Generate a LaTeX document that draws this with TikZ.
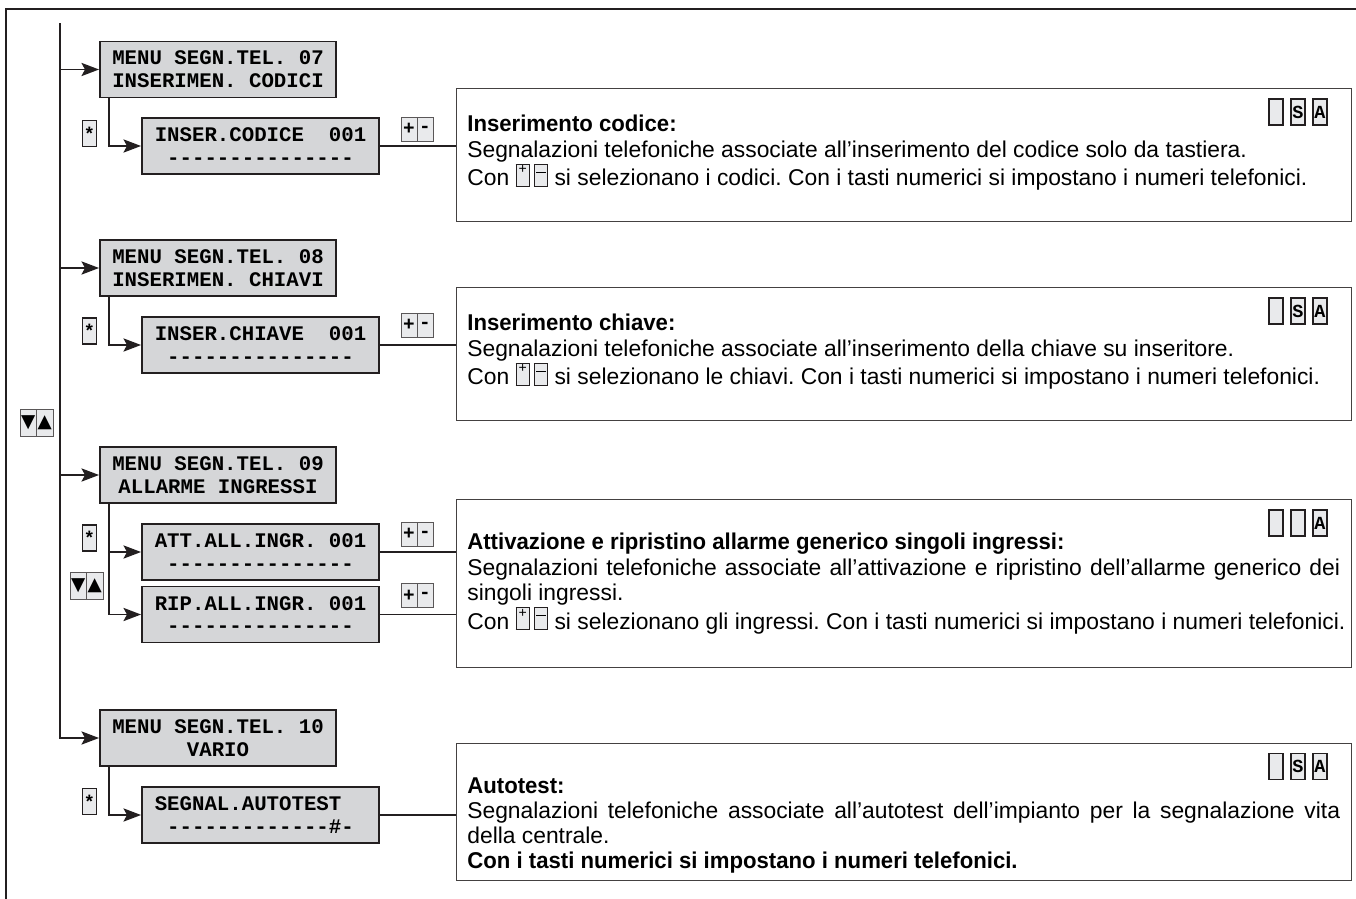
\documentclass[tikz,border=0pt]{standalone}
\usepackage{fontspec}
\setmainfont{Liberation Sans}[BoldFeatures={FakeStretch=0.97}]
\newfontfamily\lcdfont{Liberation Mono}[Ligatures=TeXOff]
\newfontfamily\symfont{DejaVu Sans}
\usetikzlibrary{arrows.meta}
\definecolor{lcdgray}{HTML}{D5D6D8}
\definecolor{keygray}{HTML}{E9EAEC}
\definecolor{ink}{HTML}{231F20}
\newcommand{\lcdpt}[4][]{\node[lcd,#1] at (#2) (#3) {#4}}
\newcommand{\keypt}[4][]{\node[keycap,#1] at (#2) (#3) {#4}}
\newcommand{\pmkey}[2]{{\setlength{\fboxsep}{0pt}\setlength{\fboxrule}{0.6pt}%
  \fcolorbox{ink}{keygray}{\parbox[b][12pt][t]{7pt}{\centering\vspace{#1}#2}}}}
\newcommand{\plusminus}{\pmkey{0.5pt}{\fontsize{8}{8}\selectfont +}\,\pmkey{4pt}{\rule{5.5pt}{0.6pt}}}
\newcommand{\fullline}[1]{\makebox[17.46cm][s]{#1}}

\begin{document}
\begin{tikzpicture}[x=0.02cm,y=-0.02cm,
    lcd/.style={draw=ink,fill=lcdgray,line width=1.1pt,minimum width=4.72cm,
      minimum height=1.12cm,inner sep=0pt,align=center,
      font=\lcdfont\bfseries\fontsize{11.8}{13}\selectfont\frenchspacing},
    keycap/.style={draw=ink,fill=keygray,line width=0.9pt,minimum width=0.28cm,
      minimum height=0.52cm,inner sep=0pt,font=\lcdfont\bfseries\fontsize{10.5}{10.5}\selectfont},
    halfkey/.style={draw=ink!75,fill=keygray,line width=0.5pt,minimum width=0.32cm,
      minimum height=0.48cm,inner sep=0pt,font=\lcdfont\bfseries\fontsize{11}{11}\selectfont},
    trikey/.style={halfkey,minimum width=0.33cm,minimum height=0.54cm,
      font=\symfont\fontsize{10.5}{10.5}\selectfont},
    info/.style={draw=ink!85,line width=0.8pt,minimum width=17.9cm,anchor=north west,inner sep=0pt},
    desc/.style={anchor=north west,inner sep=0pt,align=justify,text width=17.7cm,
      font=\fontsize{13}{14.4}\selectfont\frenchspacing},
    conn/.style={draw=ink,line width=1.1pt},
    arr/.style={conn,-{Stealth[length=10pt,width=7.5pt,inset=2pt]}}]
  \useasboundingbox (0,0) rectangle (1356,899);
  % frame
  \draw[ink,line width=1.5pt] (6,899) -- (6,9) -- (1356,9);
  \coordinate (top) at (60,23);

  % menu displays
  \lcdpt{218,69.5}{m07}{MENU SEGN.TEL. 07\\INSERIMEN. CODICI};
  \lcdpt{218,268}{m08}{MENU SEGN.TEL. 08\\INSERIMEN. CHIAVI};
  \lcdpt{218,475}{m09}{MENU SEGN.TEL. 09\\ALLARME INGRESSI};
  \lcdpt{218,738}{m10}{MENU SEGN.TEL. 10\\VARIO};
  \lcdpt[minimum width=4.74cm]{260.5,146}{s07}{INSER.CODICE\ \ 001\\---------------};
  \lcdpt[minimum width=4.74cm]{260.5,345}{s08}{INSER.CHIAVE\ \ 001\\---------------};
  \lcdpt[minimum width=4.74cm]{260.5,552}{s09a}{ATT.ALL.INGR. 001\\---------------};
  \lcdpt[minimum width=4.74cm]{260.5,614.5}{s09b}{RIP.ALL.INGR. 001\\---------------};
  \lcdpt[minimum width=4.74cm]{260.5,815}{s10}{SEGNAL.AUTOTEST\phantom{00}\\-------------\#-};

  % keys
  \keypt{89.5,133.5}{k07}{*};
  \keypt{89.5,331}{k08}{*};
  \keypt{89.5,538}{k09}{*};
  \keypt{89.5,801.5}{k10}{*};
  \node[trikey] at (28.25,422.5) (dn) {▼};
  \node[trikey] at (44.75,422.5) (up) {▲};
  \node[trikey] at (78.25,586) (dn09) {▼};
  \node[trikey] at (94.75,586) (up09) {▲};
  \node[halfkey] at (409,129) (p07) {+};   \node[halfkey] at (425,129) (n07) {-};
  \node[halfkey] at (409,325) (p08) {+};   \node[halfkey] at (425,325) (n08) {-};
  \node[halfkey] at (409,534) (p09a) {+};  \node[halfkey] at (425,534) (n09a) {-};
  \node[halfkey] at (409,595.5) (p09b) {+};\node[halfkey] at (425,595.5) (n09b) {-};

  % info boxes
  \node[info,minimum height=2.66cm] at (456,88) (i07) {};
  \node[info,minimum height=2.66cm] at (456,287) (i08) {};
  \node[info,minimum height=3.36cm] at (456,499) (i09) {};
  \node[info,minimum height=2.74cm] at (456,743) (i10) {};
  \node[desc] at (467,115) (t07) {\textbf{Inserimento codice:}\\
    Segnalazioni telefoniche associate all’inserimento del codice solo da tastiera.\\
    Con \plusminus\ si selezionano i codici. Con i tasti numerici si impostano i numeri telefonici.};
  \node[desc] at (467,314) (t08) {\textbf{Inserimento chiave:}\\
    Segnalazioni telefoniche associate all’inserimento della chiave su inseritore.\\
    Con \plusminus\ si selezionano le chiavi. Con i tasti numerici si impostano i numeri telefonici.};
  \node[desc] at (467,533) (t09) {\textbf{Attivazione e ripristino allarme generico singoli ingressi:}\\
    \fullline{Segnalazioni telefoniche associate all’attivazione e ripristino dell’allarme generico dei}\\
    singoli ingressi.\\
    Con \plusminus\ si selezionano gli ingressi. Con i tasti numerici si impostano i numeri telefonici.};
  \node[desc] at (467,777) (t10) {\textbf{Autotest:}\\
    \fullline{Segnalazioni telefoniche associate all’autotest dell’impianto per la segnalazione vita}\\
    della centrale.\\
    \textbf{Con i tasti numerici si impostano i numeri telefonici.}};
  \foreach \b/\y/\s in {07/112/S,08/311/S,09/523/{},10/766.5/S}{
    \keypt{1276,\y}{ke\b}{};
    \keypt{1298,\y}{ks\b}{\s};
    \keypt{1320,\y}{ka\b}{A};
  }

  % connectors
  \draw[arr] (top |- m07.west) -- (m07.west);
  \draw[arr] (top |- m08.west) -- (m08.west);
  \draw[arr] (top |- m09.west) -- (m09.west);
  \draw[arr] (top) |- (m10.west);
  \draw[arr] ([xshift=0.2cm]m07.south west) |- (s07.west);
  \draw[arr] ([xshift=0.2cm]m08.south west) |- (s08.west);
  \draw[arr] ([xshift=0.2cm]m09.south west) |- (s09a.west);
  \draw[arr] ([xshift=0.2cm]m09.south west) |- (s09b.west);
  \draw[arr] ([xshift=0.2cm]m10.south west) |- (s10.west);
  \draw[conn] (s07.east) -- (s07.east -| i07.west);
  \draw[conn] (s08.east) -- (s08.east -| i08.west);
  \draw[conn] (s09a.east) -- (s09a.east -| i09.west);
  \draw[conn] (s09b.east) -- (s09b.east -| i09.west);
  \draw[conn] (s10.east) -- (s10.east -| i10.west);
\end{tikzpicture}
\end{document}
